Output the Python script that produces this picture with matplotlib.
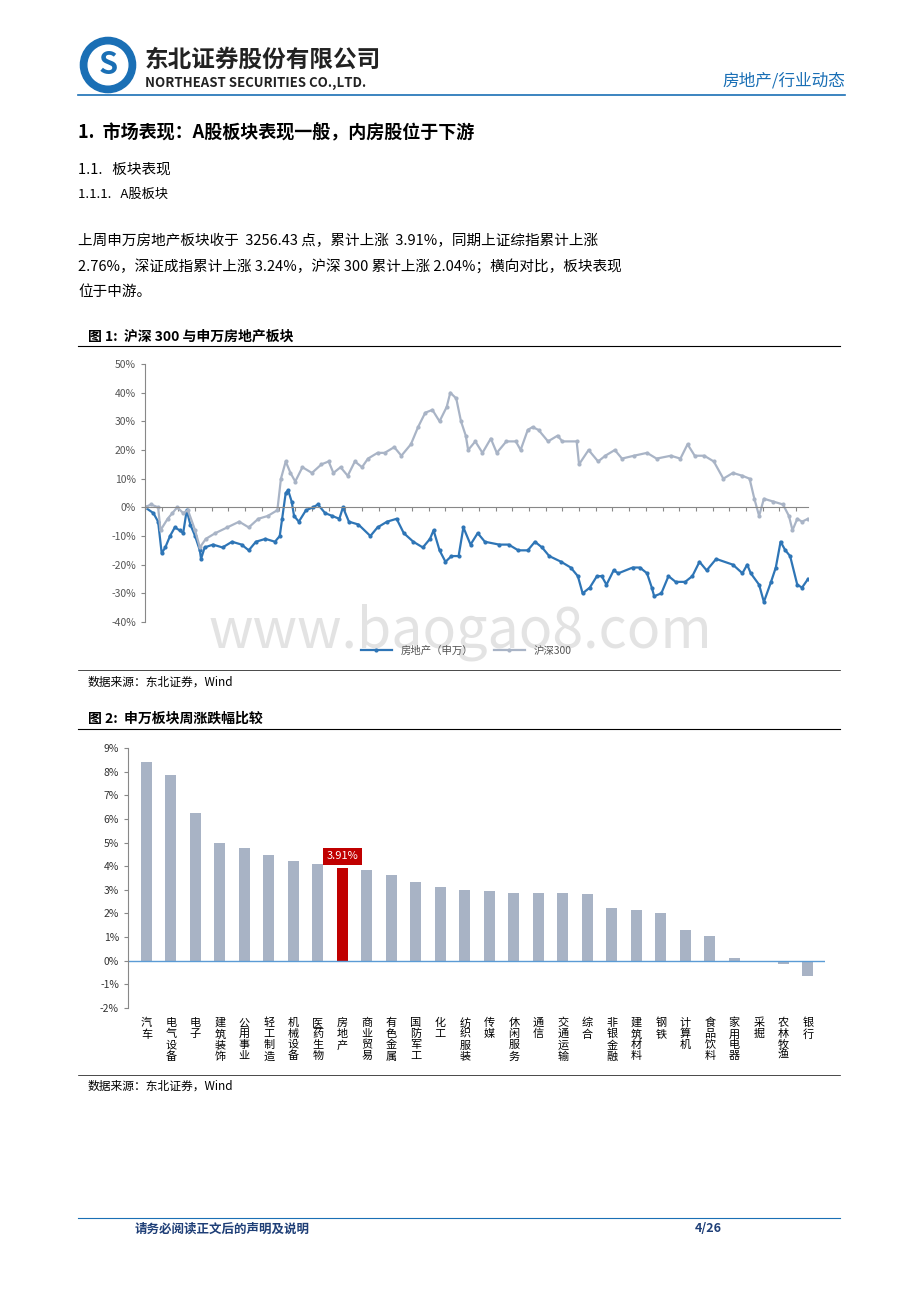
import matplotlib
matplotlib.use("Agg")
import matplotlib.pyplot as plt
from matplotlib.patches import Circle
import numpy as np

plt.rcParams['font.family'] = ['Noto Sans CJK SC', 'DejaVu Sans']

# ---- Figure 1 data (trading-day index, cumulative return %) ----
re_days = [0,7,11,14,17,21,25,29,32,35,38,42,46,47,50,57,65,73,81,87,93,101,109,113,115,118,120,123,125,129,135,141,145,151,157,163,166,171,179,189,195,203,211,217,225,233,239,242,247,252,257,263,267,273,279,285,297,305,313,321,327,333,339,349,357,363,367,373,379,383,387,393,397,409,415,421,425,427,433,439,445,453,459,465,471,479,493,501,505,508,515,519,525,529,533,537,541,547,551,556]
re_vals = [0,-2,-5,-16,-14,-10,-7,-8,-9,-1,-6,-10,-15,-18,-14,-13,-14,-12,-13,-15,-12,-11,-12,-10,-4,5,6,2,-3,-5,-1,0,1,-2,-3,-4,0,-5,-6,-10,-7,-5,-4,-9,-12,-14,-11,-8,-15,-19,-17,-17,-7,-13,-9,-12,-13,-13,-15,-15,-12,-14,-17,-19,-21,-24,-30,-28,-24,-24,-27,-22,-23,-21,-21,-23,-28,-31,-30,-24,-26,-26,-24,-19,-22,-18,-20,-23,-20,-23,-27,-33,-26,-21,-12,-15,-17,-27,-28,-25]
hs_days = [0,5,11,13,19,23,27,32,36,42,46,51,59,69,79,87,95,103,111,114,118,122,126,132,140,148,154,158,164,170,176,182,187,195,201,209,215,223,229,235,241,247,253,256,261,265,269,271,277,283,290,295,303,311,315,321,325,330,338,346,350,362,364,372,380,386,394,400,410,421,429,441,449,455,461,469,477,485,493,501,507,511,515,519,527,535,540,543,547,551,556]
hs_vals = [0,1,0,-8,-4,-2,0,-2,-1,-8,-14,-11,-9,-7,-5,-7,-4,-3,-1,10,16,12,9,14,12,15,16,12,14,11,16,14,17,19,19,21,18,22,28,33,34,30,35,40,38,30,25,20,23,19,24,19,23,23,20,27,28,27,23,25,23,23,15,20,16,18,20,17,18,19,17,18,17,22,18,18,16,10,12,11,10,3,-3,3,2,1,-3,-8,-4,-5,-4]

# ---- Figure 2 data ----
sectors = ['汽车','电气设备','电子','建筑装饰','公用事业','轻工制造','机械设备','医药生物','房地产','商业贸易',
           '有色金属','国防军工','化工','纺织服装','传媒','休闲服务','通信','交通运输','综合','非银金融',
           '建筑材料','钢铁','计算机','食品饮料','家用电器','采掘','农林牧渔','银行']
weekly = [8.4,7.85,6.25,5.0,4.78,4.47,4.22,4.1,3.91,3.82,3.62,3.32,3.12,3.0,2.95,2.85,2.85,2.85,2.83,2.22,
          2.15,2.0,1.28,1.03,0.1,0.0,-0.12,-0.65]
highlight = '房地产'

W, H = 920, 1302
fig = plt.figure(figsize=(W/100, H/100), dpi=100)

def fy(y): return 1 - y / H
def fx(x): return x / W
def txt(x, y, s, **kw):
    kw.setdefault('va', 'center')
    fig.text(fx(x), fy(y), s, **kw)
def hline(y, x0, x1, color='black', lw=0.8):
    fig.add_artist(plt.Line2D([fx(x0), fx(x1)], [fy(y), fy(y)], color=color, lw=lw))

# header
lax = fig.add_axes([fx(78), fy(95), fx(60), 60/H])
lax.set_xlim(0, 1); lax.set_ylim(0, 1); lax.set_aspect('equal'); lax.axis('off')
lax.add_patch(Circle((0.5, 0.5), 0.46, color='#1A6FB5'))
lax.add_patch(Circle((0.5, 0.5), 0.33, color='white'))
lax.text(0.5, 0.5, 'S', ha='center', va='center', fontsize=22, fontweight='bold', color='#1A6FB5')
txt(145, 60, '东北证券股份有限公司', fontsize=17, fontweight='bold', color='#222222')
txt(145, 83, 'NORTHEAST SECURITIES CO.,LTD.', fontsize=9.5, fontweight='bold', color='#222222')
txt(845, 81, '房地产/行业动态', fontsize=12, color='#1A6FB5', ha='right')
hline(95, 78, 845, color='#1A6FB5', lw=1.2)

txt(78, 133, '1.  市场表现：A股板块表现一般，内房股位于下游', fontsize=13, fontweight='bold')
txt(78, 170, '1.1.   板块表现', fontsize=10.5)
txt(78, 194, '1.1.1.   A股板块', fontsize=9.5)
txt(78, 241, '上周申万房地产板块收于  3256.43 点，累计上涨  3.91%，同期上证综指累计上涨', fontsize=10.5)
txt(78, 266, '2.76%，深证成指累计上涨 3.24%，沪深 300 累计上涨 2.04%；横向对比，板块表现', fontsize=10.5)
txt(78, 292, '位于中游。', fontsize=10.5)

txt(88, 337, '图 1:  沪深 300 与申万房地产板块', fontsize=10, fontweight='bold')
hline(346, 78, 840)
hline(670, 78, 840, lw=0.5)
txt(88, 682, '数据来源：东北证券，Wind', fontsize=8.5)
txt(88, 719, '图 2:  申万板块周涨跌幅比较', fontsize=10, fontweight='bold')
hline(729, 78, 840)
hline(1075, 78, 840, lw=0.5)
txt(88, 1086, '数据来源：东北证券，Wind', fontsize=8.5)
hline(1218, 78, 840, color='#1A6FB5', lw=0.8)
txt(135, 1229, '请务必阅读正文后的声明及说明', fontsize=9, fontweight='bold', color='#1F3F77')
txt(695, 1229, '4/26', fontsize=9, fontweight='bold', color='#1F3F77')

# watermark (behind everything)
txt(460, 632, 'www.baogao8.com', fontsize=40, color='#E3E3E3', ha='center', zorder=-5)

# chart 1
ax1 = fig.add_axes([fx(145), fy(622), fx(808-145), (622-364)/H])
ax1.patch.set_alpha(0)
ax1.plot(re_days, re_vals, color='#2E75B6', lw=1.6, marker='o', ms=2, label='房地产（申万）')
ax1.plot(hs_days, hs_vals, color='#A9B4C6', lw=1.6, marker='o', ms=2, label='沪深300')
ax1.set_ylim(-40, 50)
ax1.set_xlim(0, 556)
ax1.set_yticks(np.arange(-40, 51, 10))
ax1.set_yticklabels([f'{v}%' for v in range(-40, 51, 10)], fontsize=7.5, color='#555555')
for s in ['top', 'right']:
    ax1.spines[s].set_visible(False)
ax1.spines['left'].set_color('#888888')
ax1.spines['bottom'].set_position(('data', 0))
ax1.spines['bottom'].set_color('#888888')
ax1.set_xticks(np.arange(0, 557, 14))
ax1.set_xticklabels([])
ax1.tick_params(axis='x', length=3, color='#888888')
ax1.tick_params(axis='y', length=3, color='#888888')
fig.legend(*ax1.get_legend_handles_labels(), loc='center', bbox_to_anchor=(fx(466), fy(651)), ncol=2,
           frameon=False, fontsize=7.5, handlelength=3, labelcolor='#555555')

# chart 2
ax2 = fig.add_axes([fx(128), fy(1008), fx(825-128), (1008-748)/H])
x = np.arange(len(sectors))
colors = ['#C00000' if s == highlight else '#A8B3C5' for s in sectors]
ax2.bar(x, weekly, width=0.45, color=colors)
ax2.set_ylim(-2, 9)
ax2.set_xlim(-0.75, len(sectors) - 0.3)
ax2.set_yticks(range(-2, 10))
ax2.set_yticklabels([f'{v}%' for v in range(-2, 10)], fontsize=7.5, color='#333333')
ax2.axhline(0, color='#5B9BD5', lw=1)
for s in ['top', 'right', 'bottom']:
    ax2.spines[s].set_visible(False)
ax2.spines['left'].set_color('#888888')
ax2.tick_params(axis='y', length=3, color='#888888')
ax2.set_xticks(x)
ax2.set_xticklabels(['\n'.join(s) for s in sectors], fontsize=8, va='top', linespacing=1.12)
ax2.tick_params(axis='x', length=0, pad=7)
i = sectors.index(highlight)
ax2.text(x[i], weekly[i] + 0.3, f'{weekly[i]:.2f}%', ha='center', va='bottom', fontsize=8,
         color='white', bbox=dict(boxstyle='square,pad=0.3', fc='#C00000', ec='none'))

fig.savefig('out.png', dpi=100)
